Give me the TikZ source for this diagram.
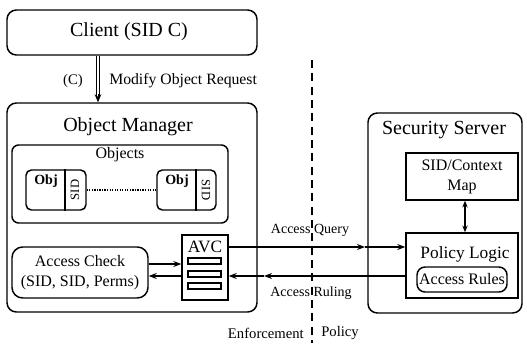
\documentclass[tikz,border=0pt]{standalone}
\usepackage{fontspec}
\setmainfont{Liberation Serif}
\usetikzlibrary{fit,arrows.meta}
\begin{document}
\begin{tikzpicture}[x=0.75pt,y=-0.75pt,
  box/.style={draw, line width=1.1pt, inner sep=0pt, rounded corners=6pt},
  sbox/.style={draw, line width=1.1pt, inner sep=0pt},
  flow/.style={line width=0.9pt, -{Stealth[length=6pt,width=4.5pt]}},
  big/.style={font=\fontsize{15}{17}\selectfont, inner sep=0pt},
  mid/.style={font=\fontsize{12}{14}\selectfont, inner sep=0pt},
  small/.style={font=\fontsize{10.5}{12}\selectfont, inner sep=0pt},
]
\useasboundingbox (0,0) rectangle (527,343);

% client process
\node[box, rounded corners=7pt, fit={(7,10)(257,55)}] (client) {};
\node[big] (clienttxt) at (129,32) {Client (SID C)};

% object manager
\node[box, rounded corners=7pt, fit={(7,103)(257,312)}] (om) {};
\node[big] (omtitle) at (128,127) {Object Manager};

% request from client to object manager
\coordinate (reqx) at (98,0);
\draw[line width=0.6pt, double, double distance=1.4pt, shorten >=5pt]
  (client.south -| reqx) -- (om.north -| reqx);
\draw[line width=0.6pt, -{Stealth[length=6pt,width=5pt]}]
  ([yshift=6pt]om.north -| reqx) -- (om.north -| reqx);
\node[small, font=\fontsize{11}{13}\selectfont] (reqc) at (73,81) {(C)};
\node[small, font=\fontsize{11.8}{13}\selectfont, anchor=west] (reqtxt) at (109,81) {Modify Object Request};

% labelled objects
\node[box, rounded corners=5pt, fit={(12,145)(228,223)}] (objs) {};
\node[mid] (objstxt) at (120,155) {Objects};
\node[box, rounded corners=4pt, fit={(26,170)(86,210)}] (oa) {};
\draw[line width=1.1pt] (oa.north -| 65,0) -- (oa.south -| 65,0);
\node[small, font=\fontsize{10.5}{12}\bfseries] (oatxt) at (46,181) {Obj};
\node[small, font=\fontsize{9.5}{11}\selectfont, rotate=90] (oasid) at (75,190) {SID};
\node[box, rounded corners=4pt, fit={(157,170)(216,210)}] (ob) {};
\draw[line width=1.1pt] (ob.north -| 196,0) -- (ob.south -| 196,0);
\node[small, font=\fontsize{10.5}{12}\bfseries] (obtxt) at (177,181) {Obj};
\node[small, font=\fontsize{9.5}{11}\selectfont, rotate=-90] (obsid) at (206,190) {SID};
\draw[line width=0.9pt, densely dotted] (oa.east) -- (ob.west);

% access check and cache
\node[box, rounded corners=8pt, fit={(12,247)(148,298)}] (ac) {};
\node[mid, align=center, font=\fontsize{12}{15}\selectfont] (actxt) at (ac.center) {Access Check\\(SID, SID, Perms)};
\node[sbox, fit={(182,235)(228,300)}] (avc) {};
\node[mid, font=\fontsize{13}{15}\selectfont] (avctxt) at (205,247) {AVC};
\node[sbox, fit={(188,258)(221,264)}] (bara) {};
\node[sbox, fit={(188,271)(221,277)}] (barb) {};
\node[sbox, fit={(188,283)(221,289)}] (barc) {};

% security server
\node[box, rounded corners=7pt, fit={(368,113)(522,313)}] (ss) {};
\node[big] (sstitle) at (444,130) {Security Server};
\node[sbox, fit={(406,153)(518,200)}] (map) {};
\node[mid, align=center, font=\fontsize{12}{15}\selectfont] (maptxt) at (map.center) {SID/Context\\Map};
\node[sbox, fit={(406,233)(518,298)}] (pl) {};
\node[mid, font=\fontsize{13}{15}\selectfont] (pltxt) at (465,254) {Policy Logic};
\node[box, rounded corners=6pt, fit={(417,267)(507,292)}] (rules) {};
\node[mid] (rulestxt) at (rules.center) {Access Rules};
\draw[line width=0.9pt, {Stealth[length=5pt,width=4pt]}-{Stealth[length=5pt,width=4pt]}]
  (map.south -| pltxt) -- (pl.north -| pltxt);

% enforcement / policy boundary
\coordinate (btop) at (312,60);
\coordinate (bbot) at (312,343);
\draw[line width=0.9pt, dash pattern=on 6pt off 4pt] (btop) -- (bbot);
\node[small, font=\fontsize{11}{12}\selectfont, anchor=east] (enf) at (304,333) {Enforcement};
\node[small, font=\fontsize{11}{12}\selectfont, anchor=west] (pol) at (321,333) {Policy};

% checks between access check and cache
\coordinate (chk) at (0,264);
\coordinate (rul) at (0,276);
\draw[flow] (ac.east |- chk) -- (avc.west |- chk);
\draw[flow] (avc.west |- rul) -- (ac.east |- rul);

% query and ruling between cache and server
\coordinate (qry) at (0,247);
\coordinate (qmid) at (365,247);
\coordinate (rmid) at (264,276);
\draw[flow] (avc.east |- qry) -- (qmid);
\draw[flow] (qmid) -- (pl.west |- qry);
\draw[flow] (pl.west |- rul) -- (rmid);
\draw[flow] (rmid) -- (avc.east |- rul);
\node[small] (qtxt) at (310,230) {Access Query};
\node[small] (rtxt) at (311,293) {Access Ruling};
\end{tikzpicture}
\end{document}
